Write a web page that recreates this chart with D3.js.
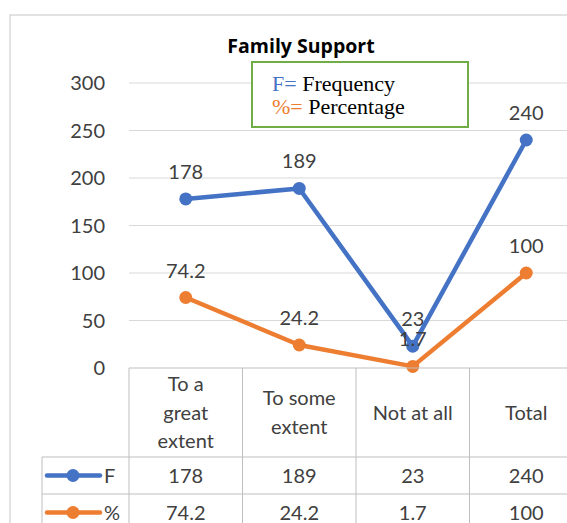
<!DOCTYPE html>
<html>
<head>
  <meta charset="utf-8">
  <title>Family Support</title>
  <style>
    body { margin: 0; background: #fff; }
    svg { display: block; }
  </style>
</head>
<body>
  <script src="https://d3js.org/d3.v7.min.js"></script>
  <script>
    // chart data
    var categories = [["To a", "great", "extent"], ["To some", "extent"], ["Not at all"], ["Total"]];
    var freq = [178, 189, 23, 240];
    var pct = [74.2, 24.2, 1.7, 100];
    var yTicks = [0, 50, 100, 150, 200, 250, 300];

    var W = 567, H = 523;
    var font = "Lato, 'Open Sans', sans-serif";
    var fs = 20;

    var svg = d3.select("body").append("svg")
      .attr("width", W)
      .attr("height", H);

    // outer chart border
    svg.append("rect")
      .attr("x", 10).attr("y", 15)
      .attr("width", 600).attr("height", 560)
      .attr("fill", "#fff")
      .attr("stroke", "#d9d9d9")
      .attr("stroke-width", 1.5);

    var keys = categories.map(function(c) { return c.join(" "); });

    var x = d3.scaleBand()
      .domain(keys)
      .range([129, 583])
      .padding(0);

    var y = d3.scaleLinear()
      .domain([0, 300])
      .range([368, 83]);

    // gridlines
    svg.selectAll(".grid")
      .data(yTicks.filter(function(d) { return d > 0; }))
      .enter().append("line")
      .attr("x1", 129).attr("x2", 600)
      .attr("y1", function(d) { return y(d); })
      .attr("y2", function(d) { return y(d); })
      .attr("stroke", "#d9d9d9")
      .attr("stroke-width", 1);

    // y tick labels
    svg.selectAll(".ylab")
      .data(yTicks)
      .enter().append("text")
      .attr("x", 105)
      .attr("y", function(d) { return y(d); })
      .attr("dy", "0.35em")
      .attr("text-anchor", "end")
      .attr("font-family", font)
      .attr("font-size", fs)
      .attr("fill", "#404040")
      .text(function(d) { return d; });

    // title
    svg.append("text")
      .attr("x", 301).attr("y", 53)
      .attr("text-anchor", "middle")
      .attr("font-family", "'Open Sans', sans-serif")
      .attr("font-weight", "bold")
      .attr("font-size", 19.5)
      .attr("fill", "#000")
      .text("Family Support");

    // note box
    var note = svg.append("g");
    note.append("rect")
      .attr("x", 252).attr("y", 62)
      .attr("width", 216).attr("height", 65)
      .attr("fill", "#fff")
      .attr("stroke", "#70ad47")
      .attr("stroke-width", 2);
    var t1 = note.append("text")
      .attr("x", 272).attr("y", 91)
      .attr("font-family", "'Liberation Serif', serif")
      .attr("font-size", 22);
    t1.append("tspan").attr("fill", "#4472c4").text("F= ");
    t1.append("tspan").attr("fill", "#000").text("Frequency");
    var t2 = note.append("text")
      .attr("x", 272).attr("y", 114)
      .attr("font-family", "'Liberation Serif', serif")
      .attr("font-size", 22);
    t2.append("tspan").attr("fill", "#ed7d31").text("%= ");
    t2.append("tspan").attr("fill", "#000").text("Percentage");

    var series = [
      { name: "F", values: freq, color: "#4472c4" },
      { name: "%", values: pct, color: "#ed7d31" }
    ];

    var line = d3.line()
      .x(function(d, i) { return x(keys[i]) + x.bandwidth() / 2; })
      .y(function(d) { return y(d); });

    series.forEach(function(s, si) {
      var g = svg.append("g");
      g.append("path")
        .datum(s.values)
        .attr("d", line)
        .attr("fill", "none")
        .attr("stroke", s.color)
        .attr("stroke-width", 4.5)
        .attr("stroke-linejoin", "round");

      g.selectAll("circle")
        .data(s.values)
        .enter().append("circle")
        .attr("cx", function(d, i) { return x(keys[i]) + x.bandwidth() / 2; })
        .attr("cy", function(d) { return y(d); })
        .attr("r", 6.5)
        .attr("fill", s.color);

      g.selectAll("text")
        .data(s.values)
        .enter().append("text")
        .attr("x", function(d, i) { return x(keys[i]) + x.bandwidth() / 2; })
        .attr("y", function(d) { return y(d) - 20; })
        .attr("text-anchor", "middle")
        .attr("font-family", font)
        .attr("font-size", fs)
        .attr("fill", "#404040")
        .text(function(d) { return d; });
    });

    // data table
    var tableTop = 368, headBottom = 457, row1Bottom = 494, row2Bottom = 531;
    var legendLeft = 42;
    var gridColor = "#bfbfbf";
    var tbl = svg.append("g");

    keys.concat(["end"]).forEach(function(k, i) {
      var xx = i < keys.length ? x(k) : x.range()[1];
      tbl.append("line")
        .attr("x1", xx).attr("x2", xx)
        .attr("y1", tableTop).attr("y2", row2Bottom)
        .attr("stroke", gridColor);
    });
    tbl.append("line")
      .attr("x1", 129).attr("x2", 600)
      .attr("y1", tableTop).attr("y2", tableTop)
      .attr("stroke", gridColor);
    [headBottom, row1Bottom, row2Bottom].forEach(function(yy) {
      tbl.append("line")
        .attr("x1", legendLeft).attr("x2", 600)
        .attr("y1", yy).attr("y2", yy)
        .attr("stroke", gridColor);
    });
    tbl.append("line")
      .attr("x1", legendLeft).attr("x2", legendLeft)
      .attr("y1", headBottom).attr("y2", row2Bottom)
      .attr("stroke", gridColor);

    // header labels
    categories.forEach(function(c, i) {
      var cx = x(keys[i]) + x.bandwidth() / 2;
      var mid = (tableTop + headBottom) / 2;
      var lh = 28.5;
      c.forEach(function(word, j) {
        tbl.append("text")
          .attr("x", cx)
          .attr("y", mid + (j - (c.length - 1) / 2) * lh)
          .attr("dy", "0.35em")
          .attr("text-anchor", "middle")
          .attr("font-family", font)
          .attr("font-size", fs)
          .attr("fill", "#404040")
          .text(word);
      });
    });

    // rows
    var rowMids = [(headBottom + row1Bottom) / 2, (row1Bottom + row2Bottom) / 2];
    series.forEach(function(s, r) {
      var ym = rowMids[r];
      tbl.append("line")
        .attr("x1", 47).attr("x2", 100)
        .attr("y1", ym).attr("y2", ym)
        .attr("stroke", s.color)
        .attr("stroke-width", 4.5)
        .attr("stroke-linecap", "round");
      tbl.append("circle")
        .attr("cx", 73).attr("cy", ym).attr("r", 6.5)
        .attr("fill", s.color);
      tbl.append("text")
        .attr("x", 104).attr("y", ym)
        .attr("dy", "0.35em")
        .attr("font-family", font)
        .attr("font-size", fs)
        .attr("fill", "#404040")
        .text(s.name);
      s.values.forEach(function(v, i) {
        tbl.append("text")
          .attr("x", x(keys[i]) + x.bandwidth() / 2)
          .attr("y", ym)
          .attr("dy", "0.35em")
          .attr("text-anchor", "middle")
          .attr("font-family", font)
          .attr("font-size", fs)
          .attr("fill", "#404040")
          .text(v);
      });
    });
  </script>
</body>
</html>
